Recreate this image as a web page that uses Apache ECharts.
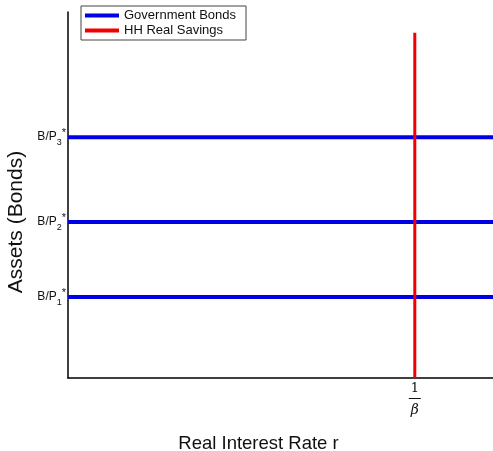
<!DOCTYPE html>
<html><head><meta charset="utf-8">
<script src="https://cdn.jsdelivr.net/npm/echarts@6/dist/echarts.min.js"></script>
<style>html,body{margin:0;padding:0;background:#fff}#c{width:493px;height:451px}</style>
</head><body><div id="c"></div>
<script>
var bondLevels = [22.1, 42.6, 65.8];
var bondLabels = ['1', '2', '3'];
var savingsRate = 0.816;
var savingsTop = 94.3;
var xRange = [0, 1];
var yRange = [0, 100];

var chart = echarts.init(document.getElementById('c'));
var series = bondLevels.map(function (v) {
  return {
    name: 'Government Bonds', type: 'line', symbol: 'none', animation: false,
    lineStyle: { color: '#0000e6', width: 4 }, itemStyle: { color: '#0000e6' },
    data: [[xRange[0], v], [xRange[1], v]]
  };
});
series.push({
  name: 'HH Real Savings', type: 'line', symbol: 'none', animation: false,
  lineStyle: { color: '#f00000', width: 3 }, itemStyle: { color: '#f00000' },
  data: [[savingsRate, yRange[0]], [savingsRate, savingsTop]]
});

chart.setOption({
  backgroundColor: '#fff',
  animation: false,
  grid: { left: 68, right: 0, top: 12, bottom: 73, containLabel: false, outerBoundsMode: 'none' },
  legend: {
    left: 81, top: 6, orient: 'vertical', itemGap: 2,
    itemWidth: 34, itemHeight: 4, padding: [3, 10, 3, 4],
    borderColor: '#444', borderWidth: 1, backgroundColor: '#fff',
    textStyle: { fontFamily: 'Liberation Sans', fontSize: 13, color: '#111' },
    data: [{ name: 'Government Bonds', icon: 'rect' }, { name: 'HH Real Savings', icon: 'rect' }]
  },
  xAxis: {
    type: 'value', min: xRange[0], max: xRange[1],
    name: 'Real Interest Rate r', nameLocation: 'middle', nameGap: 56,
    nameTextStyle: { fontFamily: 'Liberation Sans', fontSize: 18.5, color: '#111', padding: [0, 44, 0, 0] },
    axisLine: { lineStyle: { color: '#000', width: 1.5 } },
    axisTick: { show: false },
    splitLine: { show: false },
    axisLabel: {
      customValues: [savingsRate],
      formatter: function () { return '{n|1}\n{bar|}\n{b|β}'; },
      margin: 3,
      rich: {
        n: { fontFamily: 'DejaVu Serif', fontSize: 13, color: '#111', align: 'center', lineHeight: 15 },
        bar: { width: 12, height: 1, backgroundColor: '#111', lineHeight: 5 },
        b: { fontFamily: 'DejaVu Serif', fontStyle: 'italic', fontSize: 14, color: '#111', align: 'center', lineHeight: 18 }
      }
    }
  },
  yAxis: {
    type: 'value', min: yRange[0], max: yRange[1],
    name: 'Assets (Bonds)', nameLocation: 'middle', nameGap: 38,
    nameTextStyle: { fontFamily: 'Liberation Sans', fontSize: 21, color: '#111', padding: [0, 54, 0, 0] },
    axisLine: { show: true, lineStyle: { color: '#000', width: 1.5 } },
    axisTick: { show: false },
    splitLine: { show: false },
    axisLabel: {
      customValues: bondLevels,
      margin: 2,
      formatter: function (v) {
        var i = bondLevels.indexOf(v);
        return 'B/P{sub|' + bondLabels[i] + '}{sup|*}';
      },
      fontFamily: 'Liberation Sans', fontSize: 12, color: '#111',
      rich: {
        sub: { fontFamily: 'Liberation Sans', fontSize: 9, color: '#111', verticalAlign: 'bottom', padding: [11, 0, 0, 0] },
        sup: { fontFamily: 'Liberation Sans', fontSize: 11, color: '#111', verticalAlign: 'top', padding: [0, 0, 5, 0] }
      }
    }
  },
  series: series
});
</script></body></html>
